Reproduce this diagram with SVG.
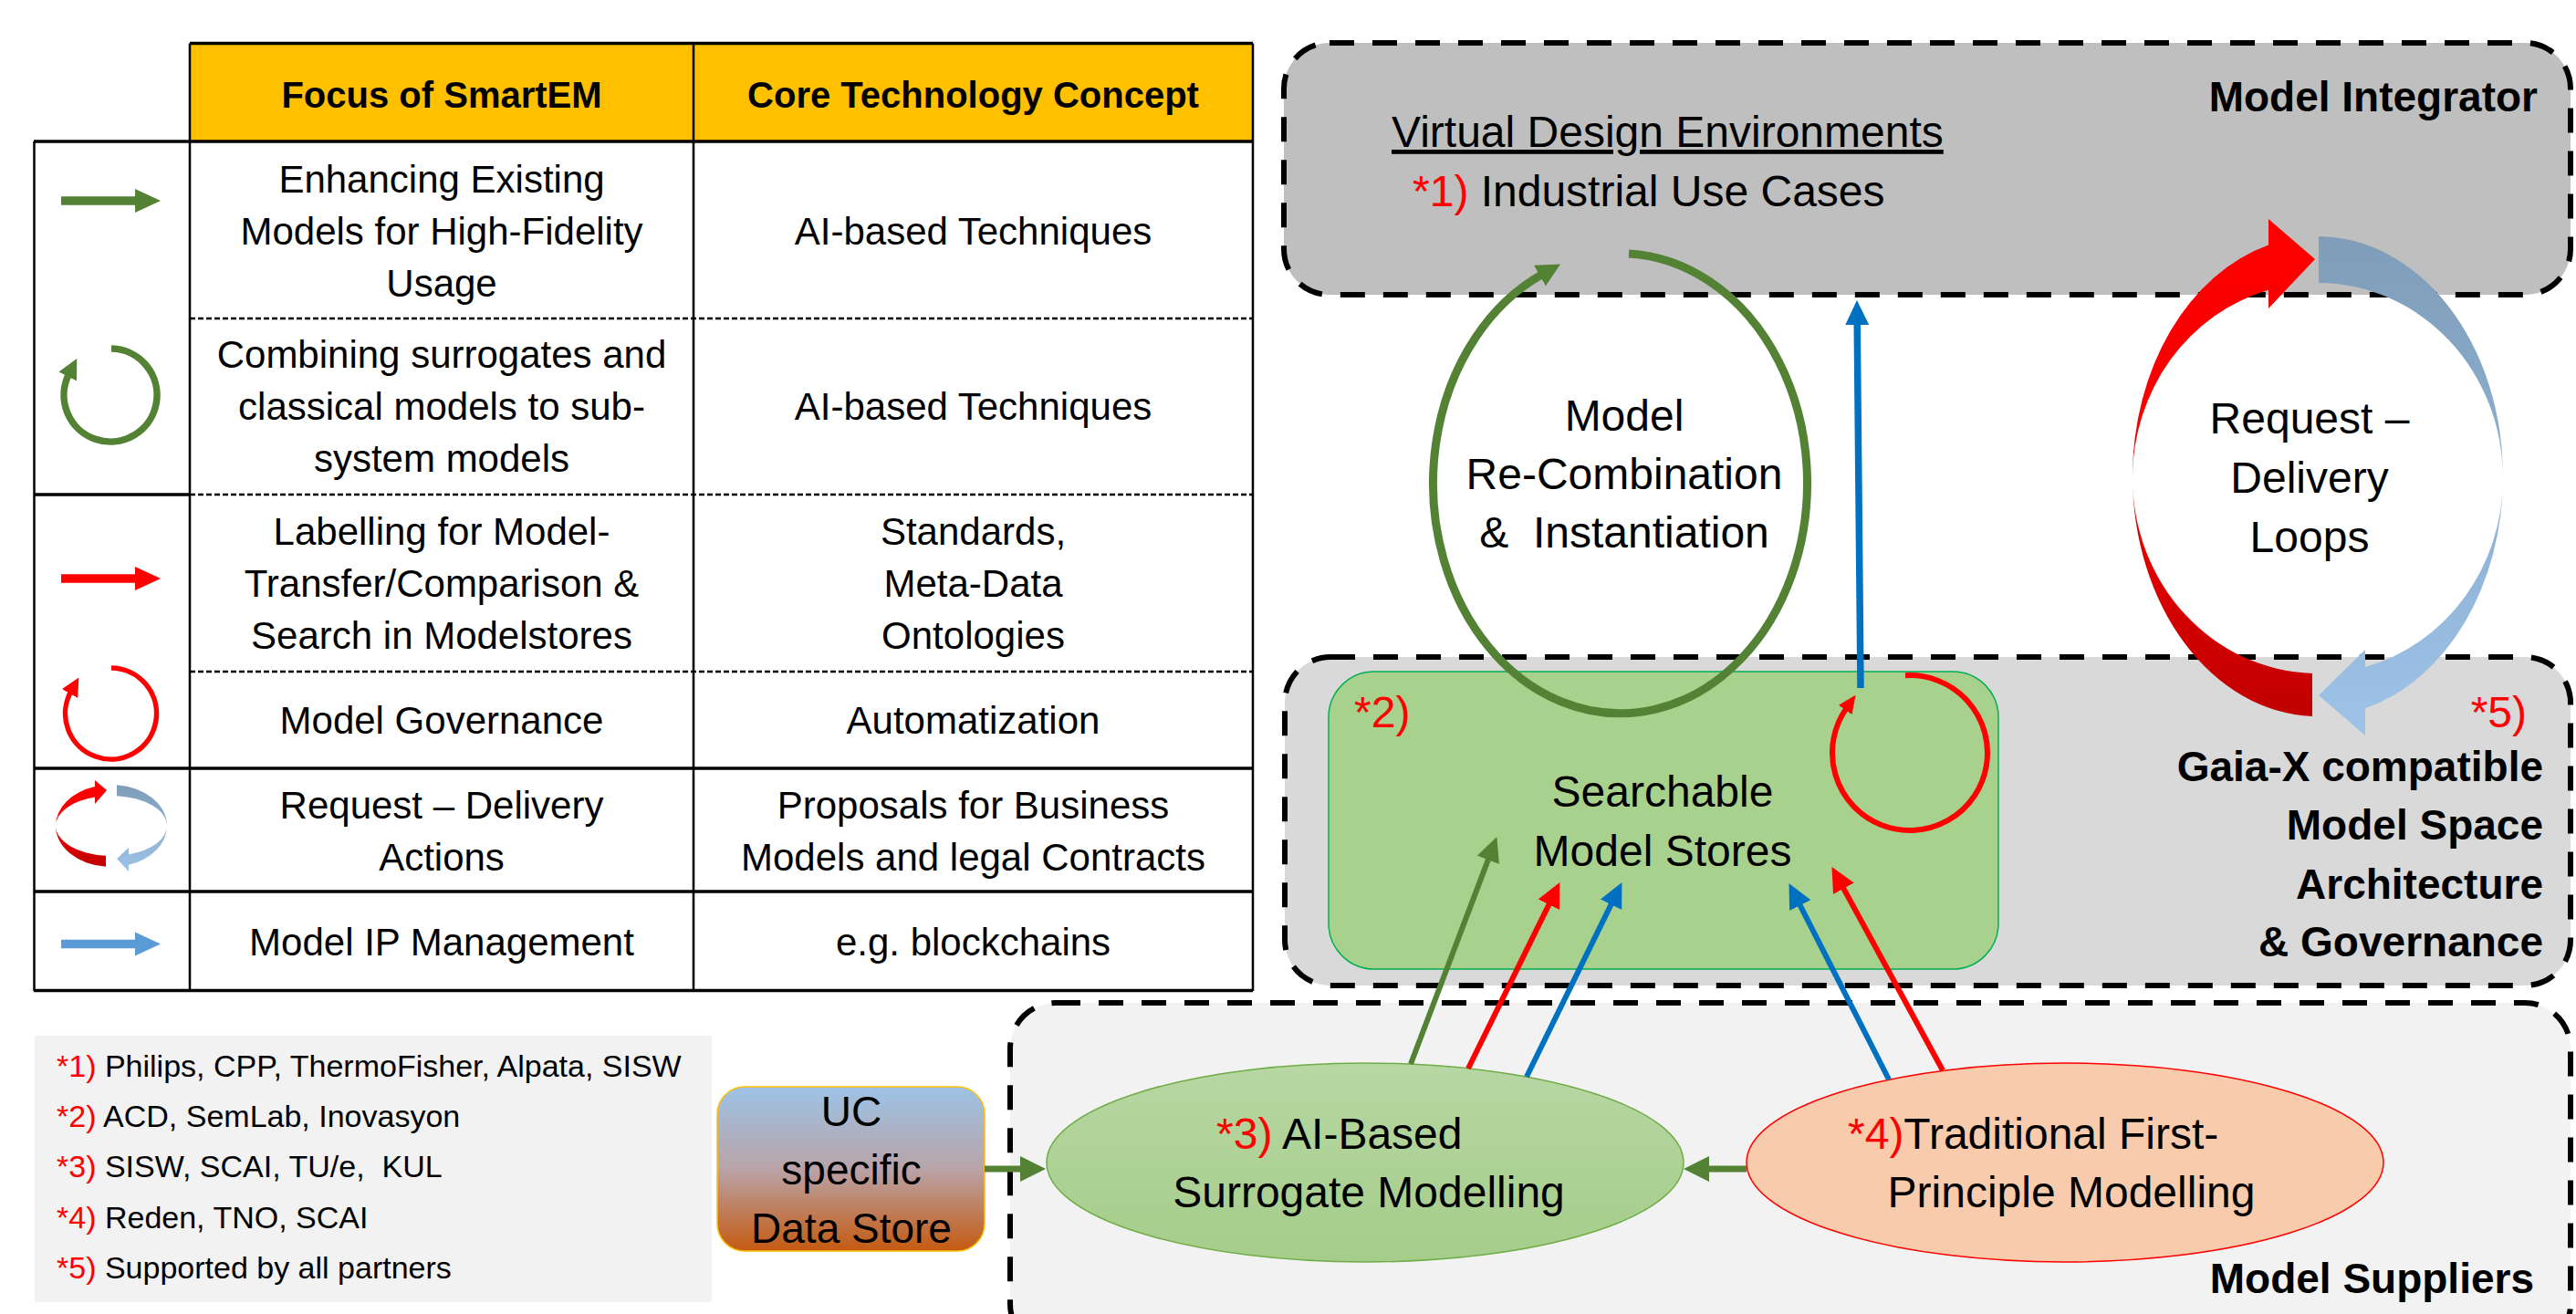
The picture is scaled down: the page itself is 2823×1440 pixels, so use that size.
<svg xmlns="http://www.w3.org/2000/svg" width="2823" height="1440" viewBox="0 0 2823 1440">
<style>
text{font-family:"Liberation Sans",Arial,sans-serif;fill:#000}
.th{font-size:40px;font-weight:bold;text-anchor:middle}
.tt{font-size:42px;text-anchor:middle}
.lg{font-size:34px;white-space:pre}
.r{fill:#FF0000}
.big{font-size:48px}
.mid{text-anchor:middle}
.bold{font-size:46px;font-weight:bold;text-anchor:end}
.grid{stroke:#000;stroke-width:2.5;fill:none}
.thick{stroke:#000;stroke-width:3.5;fill:none}
.dash{stroke:#000;stroke-width:2.5;stroke-dasharray:6 3;fill:none}
.box{stroke:#000;stroke-width:6;stroke-dasharray:27 20}
.cg{stroke:#548235;fill:none}
.cr{stroke:#FF0000;fill:none}
.cb{stroke:#0070C0;fill:none}
</style>
<defs>
<marker id="mG" markerUnits="userSpaceOnUse" markerWidth="27" markerHeight="26" refX="4" refY="13" orient="auto"><path d="M0,0 L27,13 L0,26 Z" fill="#548235"/></marker>
<marker id="mR" markerUnits="userSpaceOnUse" markerWidth="27" markerHeight="26" refX="4" refY="13" orient="auto"><path d="M0,0 L27,13 L0,26 Z" fill="#FF0000"/></marker>
<marker id="mB" markerUnits="userSpaceOnUse" markerWidth="27" markerHeight="26" refX="4" refY="13" orient="auto"><path d="M0,0 L27,13 L0,26 Z" fill="#0070C0"/></marker>
<marker id="mG2" markerUnits="userSpaceOnUse" markerWidth="28" markerHeight="28" refX="4" refY="14" orient="auto"><path d="M0,0 L28,14 L0,28 Z" fill="#548235"/></marker>
<marker id="mGl" markerUnits="userSpaceOnUse" markerWidth="26" markerHeight="26" refX="3" refY="13" orient="auto"><path d="M0,0 L26,13 L0,26 Z" fill="#548235"/></marker>
<marker id="mRl" markerUnits="userSpaceOnUse" markerWidth="20" markerHeight="18" refX="2" refY="9" orient="auto"><path d="M0,0 L20,9 L0,18 Z" fill="#FF0000"/></marker>
<marker id="mGi" markerUnits="userSpaceOnUse" markerWidth="22" markerHeight="22" refX="3" refY="11" orient="auto"><path d="M0,0 L22,11 L0,22 Z" fill="#548235"/></marker>
<marker id="mRi" markerUnits="userSpaceOnUse" markerWidth="20" markerHeight="20" refX="3" refY="10" orient="auto"><path d="M0,0 L20,10 L0,20 Z" fill="#FF0000"/></marker>
<linearGradient id="gRed" x1="0" y1="0" x2="0" y2="1"><stop offset="0" stop-color="#FF0000"/><stop offset="0.45" stop-color="#F50000"/><stop offset="1" stop-color="#C00000"/></linearGradient>
<linearGradient id="gBlue" x1="0" y1="0" x2="0" y2="1"><stop offset="0" stop-color="#7F9DB9"/><stop offset="0.5" stop-color="#8DB0D2"/><stop offset="1" stop-color="#9DC3E6"/></linearGradient>
<linearGradient id="gUC" x1="0" y1="0" x2="0" y2="1"><stop offset="0" stop-color="#9DC3E6"/><stop offset="0.5" stop-color="#B9A3A8"/><stop offset="1" stop-color="#C55A11"/></linearGradient>
<linearGradient id="gAI" x1="0" y1="0" x2="0" y2="1"><stop offset="0" stop-color="#B7D7A3"/><stop offset="1" stop-color="#A5CD8A"/></linearGradient>
</defs>
<rect x="0" y="0" width="2823" height="1440" fill="#FFFFFF"/>

<g id="table">
<rect x="208" y="47.5" width="1165" height="107.5" fill="#FFC000"/>
<line class="thick" x1="208" y1="47.5" x2="1373" y2="47.5"/>
<line class="thick" x1="37" y1="155" x2="1373" y2="155"/>
<line class="grid" x1="37.5" y1="155" x2="37.5" y2="1086"/>
<line class="grid" x1="208" y1="47.5" x2="208" y2="1086"/>
<line class="grid" x1="760" y1="47.5" x2="760" y2="1086"/>
<line class="grid" x1="1373" y1="47.5" x2="1373" y2="1086"/>
<line class="dash" x1="208" y1="349" x2="1373" y2="349"/>
<line class="thick" x1="37" y1="542" x2="208" y2="542"/>
<line class="dash" x1="208" y1="542" x2="1373" y2="542"/>
<line class="dash" x1="208" y1="736" x2="1373" y2="736"/>
<line class="thick" x1="37" y1="842" x2="1373" y2="842"/>
<line class="thick" x1="37" y1="977" x2="1373" y2="977"/>
<line class="thick" x1="37" y1="1085.5" x2="1373" y2="1085.5"/>
<text class="th" x="484" y="118">Focus of SmartEM</text>
<text class="th" x="1066.5" y="118">Core Technology Concept</text>
<text class="tt" x="484" y="211">Enhancing Existing</text>
<text class="tt" x="484" y="268">Models for High-Fidelity</text>
<text class="tt" x="484" y="325">Usage</text>
<text class="tt" x="1066.5" y="268">AI-based Techniques</text>
<text class="tt" x="484" y="403">Combining surrogates and</text>
<text class="tt" x="484" y="460">classical models to sub-</text>
<text class="tt" x="484" y="517">system models</text>
<text class="tt" x="1066.5" y="460">AI-based Techniques</text>
<text class="tt" x="484" y="597">Labelling for Model-</text>
<text class="tt" x="484" y="654">Transfer/Comparison &amp;</text>
<text class="tt" x="484" y="711">Search in Modelstores</text>
<text class="tt" x="1066.5" y="597">Standards,</text>
<text class="tt" x="1066.5" y="654">Meta-Data</text>
<text class="tt" x="1066.5" y="711">Ontologies</text>
<text class="tt" x="484" y="804">Model Governance</text>
<text class="tt" x="1066.5" y="804">Automatization</text>
<text class="tt" x="484" y="897">Request – Delivery</text>
<text class="tt" x="484" y="954">Actions</text>
<text class="tt" x="1066.5" y="897">Proposals for Business</text>
<text class="tt" x="1066.5" y="954">Models and legal Contracts</text>
<text class="tt" x="484" y="1047">Model IP Management</text>
<text class="tt" x="1066.5" y="1047">e.g. blockchains</text>
<!-- icons -->
<line x1="67" y1="220" x2="150" y2="220" stroke="#548235" stroke-width="9.5"/>
<polygon points="148,207 176,220 148,233" fill="#548235"/>
<path d="M122,382 A51,51 0 1 1 75.6,409.8" stroke="#548235" stroke-width="7.5" fill="none" marker-end="url(#mGi)"/>
<line x1="67" y1="634" x2="150" y2="634" stroke="#FF0000" stroke-width="9.5"/>
<polygon points="148,621 176,634 148,647" fill="#FF0000"/>
<path d="M122,732 A50,50 0 1 1 78,757.4" stroke="#FF0000" stroke-width="5.5" fill="none" marker-end="url(#mRi)"/>
<path d="M116,949.8 A61,45 0 0 1 61,905 A61,45 0 0 1 104,862 L104,855 L117,866 L104,881 L104,873.5 A61,33 0 0 0 61,905 A61,33 0 0 0 116,937.8 Z" fill="url(#gRed)"/>
<path d="M128,860.2 A61,45 0 0 1 183,905 A61,45 0 0 1 141,947.8 L141,955 L128,941 L141,929 L141,936.4 A61,33 0 0 0 183,905 A61,33 0 0 0 128,872.2 Z" fill="url(#gBlue)"/>
<line x1="67" y1="1034.5" x2="150" y2="1034.5" stroke="#5B9BD5" stroke-width="9.5"/>
<polygon points="148,1021.5 176,1034.5 148,1047.5" fill="#5B9BD5"/>
</g>

<g id="legend">
<rect x="38" y="1135" width="742" height="292" fill="#F2F2F2"/>
<text class="lg" x="62" y="1180"><tspan class="r">*1)</tspan> Philips, CPP, ThermoFisher, Alpata, SISW</text>
<text class="lg" x="62" y="1235"><tspan class="r">*2)</tspan> ACD, SemLab, Inovasyon</text>
<text class="lg" x="62" y="1290"><tspan class="r">*3)</tspan> SISW, SCAI, TU/e,  KUL</text>
<text class="lg" x="62" y="1346"><tspan class="r">*4)</tspan> Reden, TNO, SCAI</text>
<text class="lg" x="62" y="1401"><tspan class="r">*5)</tspan> Supported by all partners</text>
</g>

<g id="model-integrator">
<rect class="box" x="1407" y="47" width="1410" height="276" rx="50" fill="#BFBFBF"/>
<text class="big" x="1525" y="161" font-size="49" text-decoration="underline">Virtual Design Environments</text>
<text class="big" x="1548" y="226"><tspan class="r">*1)</tspan> Industrial Use Cases</text>
<text class="bold" x="2781" y="122">Model Integrator</text>
</g>

<g id="gaia-x">
<rect class="box" x="1408" y="720" width="1409" height="360" rx="50" fill="#D9D9D9"/>
<text class="big r" x="2769" y="797" text-anchor="end">*5)</text>
<text class="bold" x="2787" y="856">Gaia-X compatible</text>
<text class="bold" x="2787" y="920">Model Space</text>
<text class="bold" x="2787" y="985">Architecture</text>
<text class="bold" x="2787" y="1048">&amp; Governance</text>
</g>

<g id="model-suppliers">
<rect class="box" x="1107" y="1099" width="1710" height="380" rx="50" fill="#F2F2F2"/>
<text class="bold" x="2777" y="1417">Model Suppliers</text>
</g>

<g id="model-stores">
<rect x="1456" y="736" width="734" height="326" rx="50" fill="#A9D18E" stroke="#00B050" stroke-width="1.5"/>
<text class="big r" x="1484" y="797">*2)</text>
<text class="big mid" x="1822" y="884">Searchable</text>
<text class="big mid" x="1822" y="949">Model Stores</text>
</g>

<g id="uc-data-store">
<rect x="786" y="1191" width="293" height="180" rx="30" fill="url(#gUC)" stroke="#FFC000" stroke-width="1.5"/>
<text class="mid" x="933" y="1234" font-size="46">UC</text>
<text class="mid" x="933" y="1298" font-size="46">specific</text>
<text class="mid" x="933" y="1362" font-size="46">Data Store</text>
</g>

<g id="ai-surrogate">
<ellipse cx="1496" cy="1274" rx="349" ry="109" fill="url(#gAI)" stroke="#70AD47" stroke-width="1.5"/>
<text class="big" x="1333" y="1259"><tspan class="r">*3)</tspan> AI-Based</text>
<text class="big mid" x="1500" y="1323">Surrogate Modelling</text>
</g>

<g id="traditional">
<ellipse cx="2263" cy="1274" rx="349" ry="109" fill="#F8CBAD" stroke="#FF0000" stroke-width="1.5"/>
<text class="big" x="2025" y="1259"><tspan class="r">*4)</tspan>Traditional First-</text>
<text class="big mid" x="2270" y="1323">Principle Modelling</text>
</g>

<g id="connectors">
<path class="cg" d="M1785,278 A205,252 0 1 1 1690,300.7" stroke-width="9" marker-end="url(#mGl)"/>
<line class="cb" x1="2039" y1="754" x2="2035.2" y2="352" stroke-width="7.5" marker-end="url(#mB)"/>
<path class="cr" d="M2088,740.2 A85,85 0 1 1 2023.3,776.4" stroke-width="6" marker-end="url(#mRl)"/>
<line class="cg" x1="1546" y1="1166" x2="1632.2" y2="938.6" stroke-width="6" marker-end="url(#mG)"/>
<line class="cr" x1="1609" y1="1171" x2="1699.2" y2="987.7" stroke-width="6" marker-end="url(#mR)"/>
<line class="cb" x1="1673" y1="1180" x2="1767.3" y2="987.7" stroke-width="6" marker-end="url(#mB)"/>
<line class="cb" x1="2070" y1="1183" x2="1970.9" y2="988.6" stroke-width="6" marker-end="url(#mB)"/>
<line class="cr" x1="2129" y1="1173" x2="2018.5" y2="970.3" stroke-width="6" marker-end="url(#mR)"/>
<line class="cg" x1="1914" y1="1281" x2="1869" y2="1281" stroke-width="7" marker-end="url(#mG2)"/>
<line class="cg" x1="1079" y1="1281" x2="1122" y2="1281" stroke-width="7" marker-end="url(#mG2)"/>
<path d="M2534,784.9 A203,263 0 0 1 2337,522 A203,263 0 0 1 2486,268.5 L2486,240 L2537,284 L2486,338 L2486,317.7 A203,214 0 0 0 2337,524 A203,214 0 0 0 2534,737.9 Z" fill="url(#gRed)"/>
<path d="M2541,259 A203,263 0 0 1 2743,522 A203,263 0 0 1 2592,776.2 L2592,806 L2541,762 L2592,712 L2592,730.9 A203,214 0 0 0 2743,524 A203,214 0 0 0 2541,310 Z" fill="url(#gBlue)"/>
</g>

<g id="recombination-label">
<text class="big mid" x="1780" y="472">Model</text>
<text class="big mid" x="1780" y="536">Re-Combination</text>
<text class="big mid" x="1780" y="600" style="white-space:pre">&amp;  Instantiation</text>
</g>
<g id="request-delivery-label">
<text class="big mid" x="2531" y="475">Request –</text>
<text class="big mid" x="2531" y="540">Delivery</text>
<text class="big mid" x="2531" y="605">Loops</text>
</g>
</svg>
